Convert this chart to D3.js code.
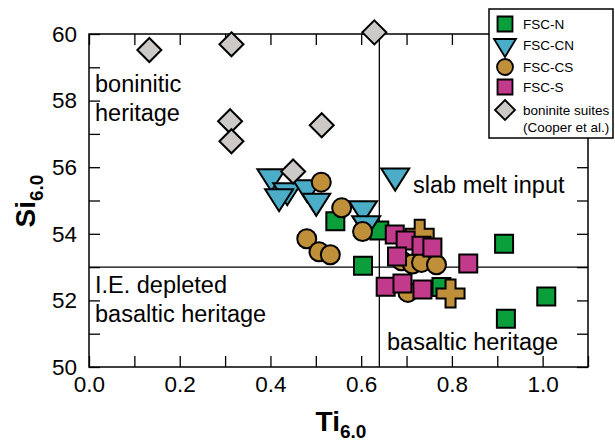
<!DOCTYPE html>
<html>
<head>
<meta charset="utf-8">
<script src="https://cdn.jsdelivr.net/npm/d3@7"></script>
<style>
  body { margin: 0; background: #fff; }
  svg text { font-family: "Liberation Sans", Arial, Helvetica, sans-serif; }
</style>
</head>
<body>
<svg id="chart" width="615" height="444"></svg>
<script>
// Ti6.0, Si6.0 pairs
const fscN = [[0.543, 54.38], [0.604, 53.04], [0.640, 54.10], [0.777, 52.40], [0.915, 53.70], [1.008, 52.12], [0.919, 51.45]];
const fscCN = [[0.402, 55.72], [0.437, 55.30], [0.419, 55.12], [0.481, 55.39], [0.501, 54.98], [0.604, 54.76], [0.611, 54.31], [0.675, 55.74]];
const fscCS = [[0.512, 55.55], [0.557, 54.78], [0.603, 54.07], [0.480, 53.85], [0.507, 53.46], [0.532, 53.37],
               [0.689, 53.19], [0.713, 53.09], [0.733, 53.14], [0.766, 53.07], [0.703, 52.24]];
const crossPts = [[0.729, 54.00], [0.797, 52.21]];
const fscS = [[0.674, 53.98], [0.698, 53.80], [0.733, 53.64], [0.757, 53.59], [0.679, 53.32], [0.836, 53.11],
              [0.654, 52.41], [0.691, 52.51], [0.735, 52.33]];
const boninite = [[0.133, 59.52], [0.314, 59.69], [0.629, 60.05], [0.311, 57.38], [0.314, 56.78], [0.513, 57.26], [0.450, 55.87]];

const xTicks = [0, 0.1, 0.2, 0.3, 0.4, 0.5, 0.6, 0.7, 0.8, 0.9, 1.0, 1.1];
const yTicks = [50, 51, 52, 53, 54, 55, 56, 57, 58, 59, 60];
const xLabels = ["0.0", "", "0.2", "", "0.4", "", "0.6", "", "0.8", "", "1.0", ""];
const yLabels = ["50", "", "52", "", "54", "", "56", "", "58", "", "60"];
const tiSplit = 0.64, siSplit = 53.0;

const colors = {N: "#0a9f3a", CN: "#4badc7", CS: "#bf8f3a", S: "#c13a8b", B: "#cdc9c7"};

const svg = d3.select("#chart");
const pl = 89, pr = 588, pt = 34, pb = 367;

const x = d3.scaleLinear().domain([0, 1.1]).range([pl, pr]);
const y = d3.scaleLinear().domain([50, 60]).range([pb, pt]);

// dividers
svg.append("line").attr("x1", x(tiSplit)).attr("x2", x(tiSplit)).attr("y1", pt).attr("y2", pb)
    .attr("stroke", "#000").attr("stroke-width", 1.3);
svg.append("line").attr("x1", pl).attr("x2", pr).attr("y1", y(siSplit)).attr("y2", y(siSplit))
    .attr("stroke", "#000").attr("stroke-width", 1.3);

// axes, ticks pointing in
const tick = 11;
const gx = svg.append("g").attr("transform", `translate(0,${pb})`)
    .call(d3.axisBottom(x).tickValues(xTicks).tickSizeInner(-tick).tickSizeOuter(0).tickPadding(9)
        .tickFormat((d, i) => xLabels[i]));
const gxt = svg.append("g").attr("transform", `translate(0,${pt})`)
    .call(d3.axisTop(x).tickValues(xTicks).tickSizeInner(-tick).tickSizeOuter(0).tickFormat(""));
const gy = svg.append("g").attr("transform", `translate(${pl},0)`)
    .call(d3.axisLeft(y).tickValues(yTicks).tickSizeInner(-tick).tickSizeOuter(0).tickPadding(12)
        .tickFormat((d, i) => yLabels[i]));
const gyr = svg.append("g").attr("transform", `translate(${pr},0)`)
    .call(d3.axisRight(y).tickValues(yTicks).tickSizeInner(-tick).tickSizeOuter(0).tickFormat(""));

[gx, gxt, gy, gyr].forEach(g => {
  g.select(".domain").remove();
  g.selectAll("line").attr("stroke", "#000").attr("stroke-width", 1.3);
  g.selectAll("text").attr("font-size", 22.5).attr("fill", "#000")
    .style("font-family", "'Liberation Sans', Arial, sans-serif");
});
gx.selectAll("text").attr("dy", "0.71em");

svg.append("rect").attr("x", pl).attr("y", pt).attr("width", pr - pl).attr("height", pb - pt)
    .attr("fill", "none").attr("stroke", "#000").attr("stroke-width", 1.5);

// region labels
const notes = [
  ["boninitic", 95, 92], ["heritage", 95, 121],
  ["slab melt input", 413, 193],
  ["I.E. depleted", 95, 293], ["basaltic heritage", 95, 322],
  ["basaltic heritage", 387, 350]
];
svg.append("g").selectAll("text").data(notes).join("text")
    .attr("x", d => d[1]).attr("y", d => d[2]).attr("font-size", 23.5).text(d => d[0]);

// marker shapes
const sq = s => `M${-s / 2},${-s / 2}h${s}v${s}h${-s}Z`;
const tri = (w, h) => `M${-w / 2},${-h / 3}L${w / 2},${-h / 3}L0,${2 * h / 3}Z`;
const dia = s => `M0,${-s / 2}L${s / 2},0L0,${s / 2}L${-s / 2},0Z`;
const circ = r => d3.arc()({innerRadius: 0, outerRadius: r, startAngle: 0, endAngle: 2 * Math.PI});
const plus = (s, t) => { const a = s / 2, b = t / 2;
  return `M${-b},${-a}H${b}V${-b}H${a}V${b}H${b}V${a}H${-b}V${b}H${-a}V${-b}H${-b}Z`; };

function drawSet(data, path, fill) {
  svg.append("g").selectAll("path").data(data).join("path")
      .attr("transform", d => `translate(${x(d[0])},${y(d[1])})`)
      .attr("d", path).attr("fill", fill).attr("stroke", "#000").attr("stroke-width", 2)
      .attr("stroke-linejoin", "miter");
}

drawSet(fscN, sq(18), colors.N);
drawSet(fscCN, tri(28, 22), colors.CN);
drawSet(crossPts, plus(28, 10), colors.CS);
drawSet(fscCS, circ(9.5), colors.CS);
drawSet(fscS, sq(18), colors.S);
drawSet(boninite, dia(24), colors.B);

// legend
const lg = svg.append("g");
lg.append("rect").attr("x", 489).attr("y", 9).attr("width", 124).attr("height", 129)
    .attr("fill", "#fff").attr("stroke", "#000").attr("stroke-width", 1.5);
const legendItems = [
  {path: sq(15), fill: colors.N, label: ["FSC-N"], y: 24},
  {path: tri(22, 18), fill: colors.CN, label: ["FSC-CN"], y: 45},
  {path: circ(8), fill: colors.CS, label: ["FSC-CS"], y: 67},
  {path: sq(15), fill: colors.S, label: ["FSC-S"], y: 87},
  {path: dia(20), fill: colors.B, label: ["boninite suites", "(Cooper et al.)"], y: 110}
];
legendItems.forEach(it => {
  lg.append("path").attr("transform", `translate(505,${it.y})`).attr("d", it.path)
      .attr("fill", it.fill).attr("stroke", "#000").attr("stroke-width", 1.8);
  it.label.forEach((t, i) => {
    lg.append("text").attr("x", 523).attr("y", it.y + 5 + i * 17).attr("font-size", 13.5).text(t);
  });
});

// axis titles
const xt = svg.append("text").attr("x", 341).attr("y", 431).attr("text-anchor", "middle")
    .attr("font-size", 28).attr("font-weight", "bold");
xt.append("tspan").text("Ti");
xt.append("tspan").attr("dy", 7).attr("font-size", 19).text("6.0");

const yt = svg.append("text").attr("transform", `translate(35,201) rotate(-90)`).attr("text-anchor", "middle")
    .attr("font-size", 28).attr("font-weight", "bold");
yt.append("tspan").text("Si");
yt.append("tspan").attr("dy", 8).attr("font-size", 19).text("6.0");
</script>
</body>
</html>
